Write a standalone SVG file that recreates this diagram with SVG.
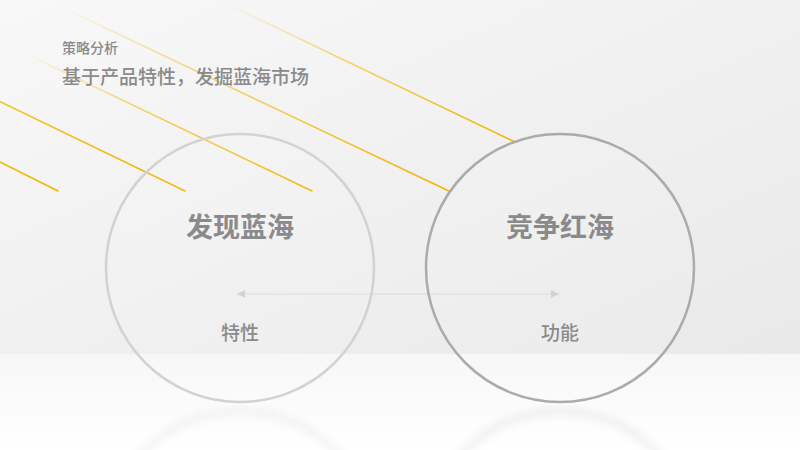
<svg xmlns="http://www.w3.org/2000/svg" width="800" height="450" viewBox="0 0 800 450">
  <style>
    .cjk { font-family: "Noto Sans CJK SC", "Noto Sans", sans-serif; fill: #8a8a8a; }
    .head { font-size: 27px; font-weight: 700; text-anchor: middle; }
    .sub { font-size: 19px; font-weight: 500; text-anchor: middle; }
    .ray { stroke-width: 1.6; fill: none; stroke-linecap: round; }
  </style>
  <defs>
    <linearGradient id="wall" x1="0" y1="0" x2="1" y2="1">
      <stop offset="0" stop-color="#f8f8f8"/>
      <stop offset="1" stop-color="#e9e9e9"/>
    </linearGradient>
    <linearGradient id="floor" x1="0" y1="0" x2="0" y2="1">
      <stop offset="0" stop-color="#f7f7f7"/>
      <stop offset="1" stop-color="#ffffff"/>
    </linearGradient>
    <linearGradient id="rayFade" x1="0" y1="0" x2="1" y2="1">
      <stop offset="0" stop-color="#f3b800" stop-opacity="0"/>
      <stop offset="0.35" stop-color="#f3b800" stop-opacity="0.5"/>
      <stop offset="1" stop-color="#f3b400" stop-opacity="1"/>
    </linearGradient>
    <linearGradient id="raySolid" x1="0" y1="0" x2="1" y2="1">
      <stop offset="0" stop-color="#f3b800" stop-opacity="0.8"/>
      <stop offset="1" stop-color="#f3b400" stop-opacity="1"/>
    </linearGradient>
    <filter id="blur" x="-20%" y="-20%" width="140%" height="140%">
      <feGaussianBlur stdDeviation="4"/>
    </filter>
    <clipPath id="floorClip">
      <rect x="0" y="405" width="800" height="45"/>
    </clipPath>
    <marker id="arrowEnd" viewBox="0 0 10 10" refX="10" refY="5" markerWidth="8" markerHeight="8" markerUnits="userSpaceOnUse" orient="auto">
      <path d="M0,0 L10,5 L0,10 Z" fill="#cfcfcf"/>
    </marker>
    <marker id="arrowStart" viewBox="0 0 10 10" refX="0" refY="5" markerWidth="8" markerHeight="8" markerUnits="userSpaceOnUse" orient="auto">
      <path d="M10,0 L0,5 L10,10 Z" fill="#cfcfcf"/>
    </marker>
  </defs>

  <!-- background -->
  <rect x="0" y="0" width="800" height="354" fill="url(#wall)"/>
  <rect x="0" y="354" width="800" height="96" fill="url(#floor)"/>

  <!-- reflections -->
  <g clip-path="url(#floorClip)" filter="url(#blur)" opacity="0.35">
    <circle cx="240" cy="545" r="134" fill="none" stroke="#d0d0d0" stroke-width="5"/>
    <circle cx="560" cy="545" r="134" fill="none" stroke="#c4c4c4" stroke-width="5"/>
  </g>

  <!-- yellow rays -->
  <g id="rays">
    <line class="ray" x1="-40" y1="142" x2="58" y2="191" stroke="url(#raySolid)"/>
    <line class="ray" x1="-20" y1="92" x2="185" y2="191" stroke="url(#raySolid)"/>
    <line class="ray" x1="20" y1="51" x2="312" y2="191" stroke="url(#rayFade)"/>
    <line class="ray" x1="55" y1="4" x2="449" y2="191" stroke="url(#rayFade)"/>
    <line class="ray" x1="225" y1="3" x2="515" y2="142" stroke="url(#rayFade)"/>
  </g>

  <!-- title -->
  <g id="title">
    <text class="cjk" x="62" y="53" font-size="14" font-weight="500">策略分析</text>
    <text class="cjk" x="62" y="84" font-size="19" font-weight="500">基于产品特性，发掘蓝海市场</text>
  </g>

  <!-- connectors -->
  <g id="connectors">
    <line x1="237" y1="294" x2="559" y2="294" stroke="#dadada" stroke-width="1" marker-start="url(#arrowStart)" marker-end="url(#arrowEnd)"/>
  </g>

  <!-- nodes -->
  <g id="node-blue-ocean">
    <circle cx="240" cy="268" r="134" fill="#ffffff" fill-opacity="0.08" stroke="#d2d2d2" stroke-width="2.5"/>
    <text class="cjk head" x="240" y="237">发现蓝海</text>
    <text class="cjk sub" x="240" y="340">特性</text>
  </g>
  <g id="node-red-ocean">
    <circle cx="560" cy="268" r="134" fill="#ffffff" fill-opacity="0.08" stroke="#ababab" stroke-width="2.5"/>
    <text class="cjk head" x="560" y="237">竞争红海</text>
    <text class="cjk sub" x="560" y="340">功能</text>
  </g>
</svg>
